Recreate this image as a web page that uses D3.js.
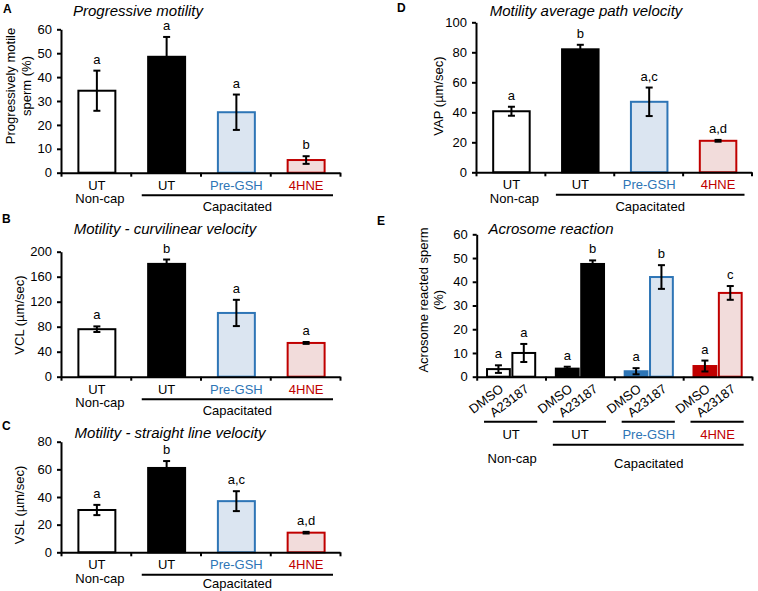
<!DOCTYPE html>
<html><head><meta charset="utf-8">
<script src="https://cdn.jsdelivr.net/npm/d3@7"></script>
<style>
body{margin:0;background:#fff;}
svg{display:block;font-family:"Liberation Sans",Arial,sans-serif;}
</style></head>
<body><svg id="c" width="758" height="591"></svg>
<script>
// ---------- data ----------
const categories = ["UT", "UT", "Pre-GSH", "4HNE"];
const groupNames = ["Non-cap", "Capacitated"];

const progValues = [34.3, 48.5, 25.3, 5.3];
const progErrors = [8.4, 8.3, 7.4, 1.6];
const progLetters = ["a", "a", "a", "b"];

const vapValues = [40.7, 82, 47, 21];
const vapErrors = [3, 3, 9.5, 0.6];
const vapLetters = ["a", "b", "a,c", "a,d"];

const vclValues = [76, 180.5, 102, 54];
const vclErrors = [4.5, 7, 21, 1.5];
const vclLetters = ["a", "b", "a", "a"];

const vslValues = [30.6, 61, 37, 14.2];
const vslErrors = [3.7, 5, 7.2, 0.6];
const vslLetters = ["a", "b", "a,c", "a,d"];

const acroTreatments = ["DMSO", "A23187"];
const acroDMSO = [3.2, 3.4, 2.3, 4.5];
const acroDMSOErr = [1.6, 0.8, 1.3, 2.3];
const acroA23187 = [10, 47.5, 42, 35.3];
const acroA23187Err = [3.8, 1.5, 5, 2.9];
const acroDMSOLetters = ["a", "a", "a", "a"];
const acroA23187Letters = ["a", "b", "b", "c"];

// ---------- styles ----------
const fills = ["#ffffff", "#000000", "#dbe5f1", "#f2dcdb"];
const strokes = ["#000000", "#000000", "#2e75b6", "#c00000"];
const solid = ["#ffffff", "#000000", "#2e75b6", "#c00000"];
const textCols = ["#000000", "#000000", "#2e75b6", "#c00000"];
const FONT = 13;

const svg = d3.select("#c");

function yAxis(g, y, ticks, left) {
  const ax = g.append("g").attr("transform", `translate(${left},0)`)
    .call(d3.axisLeft(y).tickValues(ticks).tickSize(4).tickSizeOuter(0).tickPadding(5));
  ax.select(".domain").attr("stroke-width", 2);
  ax.selectAll(".tick line").attr("stroke-width", 2);
  ax.selectAll(".tick text").attr("font-size", FONT).attr("font-family", "Liberation Sans, Arial").attr("fill", "#000");
}
function xAxis(g, left, right, bottom) {
  const xl = d3.scaleLinear().domain([0, 4]).range([left, right]);
  const ax = g.append("g").attr("transform", `translate(0,${bottom})`)
    .call(d3.axisBottom(xl).tickValues([0, 1, 2, 3, 4]).tickFormat("").tickSize(4).tickSizeOuter(0));
  ax.select(".domain").attr("stroke-width", 2);
  ax.selectAll(".tick line").attr("stroke-width", 2);
  return xl;
}
function errBar(g, cx, y, v, e, col) {
  g.append("line").attr("x1", cx).attr("x2", cx).attr("y1", y(v + e)).attr("y2", y(v - e))
    .attr("stroke", col).attr("stroke-width", 2);
  [v + e, v - e].forEach(t => g.append("line").attr("x1", cx - 3.5).attr("x2", cx + 3.5)
    .attr("y1", y(t)).attr("y2", y(t)).attr("stroke", col).attr("stroke-width", 2));
}
function text(g, x, y, s, opts = {}) {
  const t = g.append("text").attr("x", x).attr("y", y).text(s)
    .attr("font-size", opts.size || FONT).attr("fill", opts.fill || "#000")
    .attr("text-anchor", opts.anchor || "middle");
  if (opts.italic) t.attr("font-style", "italic");
  if (opts.bold) t.attr("font-weight", "bold");
  if (opts.transform) t.attr("transform", opts.transform);
  return t;
}

function simplePanel(p) {
  const g = svg.append("g");
  const y = d3.scaleLinear().domain([0, p.max]).range([p.bottom, p.top]);
  const x = d3.scaleBand().domain(d3.range(4)).range([p.left + 1, p.right + 1])
    .paddingInner(0.47).paddingOuter(0.235);
  p.values.forEach((v, i) => {
    g.append("rect").attr("x", x(i)).attr("width", x.bandwidth())
      .attr("y", y(v)).attr("height", y(0) - y(v))
      .attr("fill", fills[i]).attr("stroke", strokes[i]).attr("stroke-width", 2);
  });
  p.values.forEach((v, i) => {
    const cx = x(i) + x.bandwidth() / 2;
    errBar(g, cx, y, v, p.errors[i], "#000");
    text(g, cx, y(v + p.errors[i]) - 7, p.letters[i]);
  });
  yAxis(g, y, d3.range(0, p.max + 0.01, p.step), p.left);
  const xl = xAxis(g, p.left, p.right, p.bottom);
  categories.forEach((c, i) => text(g, x(i) + x.bandwidth() / 2, p.bottom + 17, c, { fill: textCols[i] }));
  text(g, x(0) + x.bandwidth() / 2 + 3, p.bottom + 30.5, groupNames[0]);
  g.append("line").attr("x1", xl(1) + 11).attr("x2", xl(4) - 7)
    .attr("y1", p.bottom + 22.5).attr("y2", p.bottom + 22.5).attr("stroke", "#000").attr("stroke-width", 2);
  text(g, (xl(1) + xl(4)) / 2 + 2, p.bottom + p.capOffset, groupNames[1]);
  text(g, p.titleX, p.titleY, p.title, { size: 15, italic: true });
  text(g, p.letterX, p.letterY, p.letter, { size: 12, bold: true, anchor: "start" });
  p.ylabel.forEach((l, k) => text(g, 0, 0, l, { transform: `translate(${p.ylabelX[k]},${p.ylabelY}) rotate(-90)` }));
}

simplePanel({ left: 61, right: 340, top: 29.3, bottom: 172.7, max: 60, step: 10, capOffset: 38.5,
  values: progValues, errors: progErrors, letters: progLetters,
  title: "Progressive motility", titleX: 138, titleY: 16, letter: "A", letterX: 3, letterY: 13,
  ylabel: ["Progressively motile", "sperm (%)"], ylabelX: [15, 31], ylabelY: 86 });

simplePanel({ left: 476, right: 751.5, top: 22.3, bottom: 172.3, max: 100, step: 20, capOffset: 38.5,
  values: vapValues, errors: vapErrors, letters: vapLetters,
  title: "Motility average path velocity", titleX: 586, titleY: 16, letter: "D", letterX: 397, letterY: 12,
  ylabel: ["VAP (µm/sec)"], ylabelX: [443], ylabelY: 96 });

simplePanel({ left: 61, right: 340, top: 251.7, bottom: 376.7, max: 200, step: 40, capOffset: 38.5,
  values: vclValues, errors: vclErrors, letters: vclLetters,
  title: "Motility - curvilinear velocity", titleX: 165, titleY: 234, letter: "B", letterX: 2, letterY: 223,
  ylabel: ["VCL (µm/sec)"], ylabelX: [24], ylabelY: 315 });

simplePanel({ left: 61, right: 340, top: 441.7, bottom: 552.3, max: 80, step: 20, capOffset: 35.5,
  values: vslValues, errors: vslErrors, letters: vslLetters,
  title: "Motility - straight line velocity", titleX: 170, titleY: 438, letter: "C", letterX: 2, letterY: 430,
  ylabel: ["VSL (µm/sec)"], ylabelX: [24], ylabelY: 505 });

// ---------- panel E ----------
(function () {
  const p = { left: 476.7, right: 752, top: 234.3, bottom: 376.7, max: 60 };
  const g = svg.append("g");
  const y = d3.scaleLinear().domain([0, p.max]).range([p.bottom, p.top]);
  const x0 = d3.scaleBand().domain(d3.range(4)).range([p.left, p.right]).paddingInner(0.3).paddingOuter(0.15);
  const x1 = d3.scaleBand().domain(acroTreatments).range([0, x0.bandwidth()]).paddingInner(0.1);
  const series = [
    { key: "DMSO", vals: acroDMSO, errs: acroDMSOErr, letters: acroDMSOLetters, fill: solid },
    { key: "A23187", vals: acroA23187, errs: acroA23187Err, letters: acroA23187Letters, fill: fills }
  ];
  series.forEach(s => s.vals.forEach((v, i) => {
    g.append("rect").attr("x", x0(i) + x1(s.key)).attr("width", x1.bandwidth())
      .attr("y", y(v)).attr("height", y(0) - y(v))
      .attr("fill", s.fill[i]).attr("stroke", strokes[i]).attr("stroke-width", 2);
  }));
  series.forEach(s => s.vals.forEach((v, i) => {
    const cx = x0(i) + x1(s.key) + x1.bandwidth() / 2;
    errBar(g, cx, y, v, s.errs[i], "#000");
    text(g, cx, y(v + s.errs[i]) - 7, s.letters[i]);
    text(g, 0, 0, s.key, { anchor: "end", size: 13,
      transform: `translate(${cx + 6},${p.bottom + 14}) rotate(-37)` });
  }));
  yAxis(g, y, d3.range(0, 61, 10), p.left);
  xAxis(g, p.left, p.right, p.bottom);
  categories.forEach((c, i) => {
    g.append("line").attr("x1", x0(i) - 3).attr("x2", x0(i) + x0.bandwidth() + 2)
      .attr("y1", p.bottom + 45).attr("y2", p.bottom + 45).attr("stroke", "#000").attr("stroke-width", 2);
    text(g, x0(i) + x0.bandwidth() / 2, p.bottom + 62, c, { fill: textCols[i] });
  });
  g.append("line").attr("x1", x0(1) - 3).attr("x2", x0(3) + x0.bandwidth() + 2)
    .attr("y1", p.bottom + 68).attr("y2", p.bottom + 68).attr("stroke", "#000").attr("stroke-width", 2);
  text(g, x0(0) + x0.bandwidth() / 2 + 1, p.bottom + 86, groupNames[0]);
  text(g, (x0(1) + x0(3) + x0.bandwidth()) / 2, p.bottom + 91, groupNames[1]);
  text(g, 551, 234, "Acrosome reaction", { size: 15, italic: true });
  text(g, 377, 225, "E", { size: 12, bold: true, anchor: "start" });
  text(g, 0, 0, "Acrosome reacted sperm", { transform: `translate(428,300) rotate(-90)` });
  text(g, 0, 0, "(%)", { transform: `translate(443,300) rotate(-90)` });
})();
</script></body></html>
